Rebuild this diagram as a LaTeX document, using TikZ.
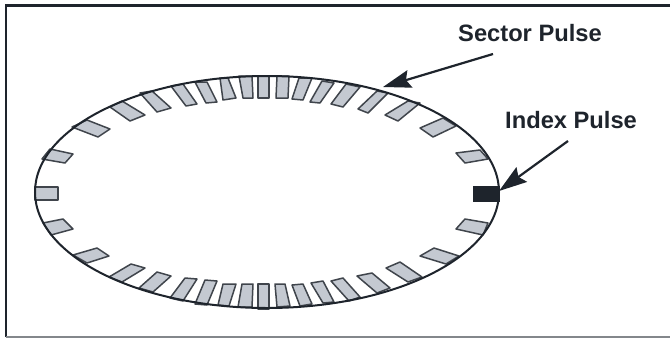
\documentclass[tikz,border=0pt]{standalone}
\usepackage{fontspec}
\setmainfont{Liberation Sans}
\usetikzlibrary{arrows.meta,shapes.geometric}
\definecolor{ink}{RGB}{30,36,44}
\definecolor{hatch}{RGB}{196,201,209}
\tikzset{
  frameline/.style={draw=ink,line width=2.4pt},
  pulsemark/.style={draw=ink!85,fill=hatch,line width=1.5pt,line join=round},
  indexmark/.style={fill=ink,draw=ink,line width=.6pt},
  disc/.style={ellipse,draw=ink,line width=2pt,minimum width=464pt,minimum height=232pt,inner sep=0pt},
  lbl/.style={font=\bfseries\fontsize{23.7}{26}\selectfont,text=ink,inner sep=0pt,anchor=base west},
  pointer/.style={draw=ink,line width=2.2pt,-{Stealth[length=28pt,width=18pt,inset=4pt]}}
}
\begin{document}
\begin{tikzpicture}[x=1pt,y=-1pt]
\useasboundingbox (0,0) rectangle (670,338);
\fill[white] (0,0) rectangle (670,338);
\draw[frameline] (6,337) -- (6,5.5) -- (670,5.5);
\draw[draw=ink!55,line width=1.8pt] (6,337) -- (670,337);
\foreach \ax/\ay/\bx/\by/\cx/\cy/\dx/\dy in {
 35/187/35/200/58/200/58/187,
 42/159/50/149/73/154/65/163,
 72/127/87/120/110/129/98/137,
 110/107/122/101/145/115/130/121,
 140/93/152/91/171/108/157/112,
 171/86/183/84/197/104/186/106,
 195/82/207/82/217/102/206/103,
 220/78/228/78/236/98/223/100,
 239/76/252/76/253/98/243/98,
 258/76/269/76/269/98/258/98,
 277/76/289/76/288/98/276/98,
 299/78/312/78/303/100/292/99,
 322/81/334/83/320/103/310/102,
 346/84/360/87/343/107/331/104,
 377/91/388/93/368/113/358/109,
 408/101/420/103/398/121/385/115,
 443/118/456/126/433/137/420/128,
 480/150/488/159/465/163/456/153,
 488/223/483/235/456/229/465/219,
 459/256/446/264/420/256/434/248,
 422/277/408/282/386/268/400/262,
 390/288/377/293/357/276/372/273,
 360/297/349/301/331/281/343/278,
 334/302/323/303/311/283/323/281,
 312/304/300/306/292/285/303/284,
 290/306/277/307/275/284/285/284,
 269/309/258/309/258/284/269/284,
 252/307/238/307/242/284/253/284,
 229/306/218/305/223/284/236/284,
 207/305/195/304/205/280/217/281,
 183/301/170/298/185/278/197/279,
 153/292/139/288/157/272/171/276,
 122/282/109/277/131/264/145/268,
 87/263/73/255/97/248/109/256,
 51/235/43/223/63/219/73/229}
 {\draw[pulsemark] (\ax,\ay) -- (\bx,\by) -- (\cx,\cy) -- (\dx,\dy) -- cycle;}
\node[disc] (ring) at (267,192) {};
\node[indexmark,minimum width=26pt,minimum height=15pt,inner sep=0pt] (index) at (486,193.5) {};
\node[lbl] (sector label) at (458,41) {Sector Pulse};
\node[lbl] (index label) at (505,128) {Index Pulse};
\coordinate (sector tail) at (493,54);
\coordinate (sector tip) at (383,87);
\coordinate (index tail) at (568,141);
\coordinate (index tip) at (499,191);
\draw[pointer] (sector tail) -- (sector tip);
\draw[pointer] (index tail) -- (index tip);
\end{tikzpicture}
\end{document}
